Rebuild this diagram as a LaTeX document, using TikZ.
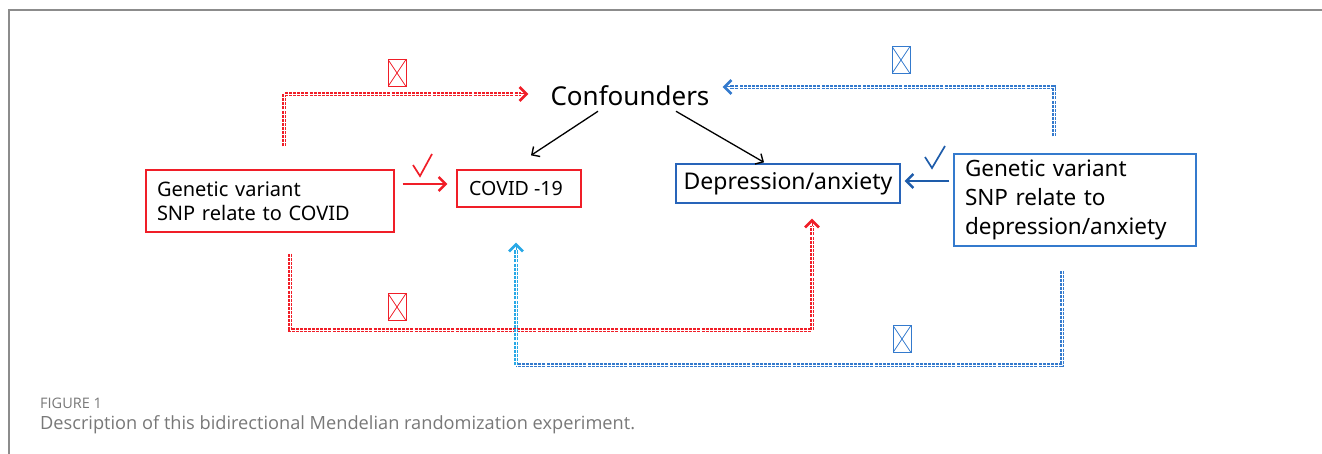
\documentclass[tikz,border=0pt]{standalone}
\usepackage{fontspec}
\setmainfont{Noto Sans}
\newfontfamily\capfont{Open Sans}
\usetikzlibrary{arrows.meta,calc}
\definecolor{myred}{RGB}{240,30,40}
\definecolor{myblue}{RGB}{52,122,205}
\definecolor{darkblue}{RGB}{30,92,170}
\definecolor{depblue}{RGB}{40,100,185}
\definecolor{cyanblue}{RGB}{40,168,230}
\definecolor{framegray}{RGB}{140,140,140}
\definecolor{capgray}{RGB}{120,120,120}
\tikzset{
  boxnode/.style={draw, line width=1.3pt, inner sep=0pt, align=left},
  dotline/.style={line width=4pt, dash pattern=on 3pt off 1.1pt,
    postaction={draw=white, line width=0.9pt}},
  tipline/.style={line width=1pt, -{Straight Barb[length=7pt,width=14pt,line width=2.6pt]}},
  solidarrow/.style={line width=2.4pt, -{Straight Barb[length=7pt,width=14pt,line width=2.4pt]}},
  blackarrow/.style={line width=1.3pt, -{Straight Barb[length=6pt,width=12pt,line width=1.4pt]}},
  xbox/.style={draw, line width=1pt, minimum width=18pt, minimum height=27pt, inner sep=0pt,
    path picture={\draw[line width=0.8pt] (path picture bounding box.south west) -- (path picture bounding box.north east)
      (path picture bounding box.north west) -- (path picture bounding box.south east);}},
  checkline/.style={line width=1.7pt, line join=miter, line cap=butt}
}
\begin{document}
\begin{tikzpicture}[x=1pt,y=-1pt]
\useasboundingbox (0,0) rectangle (1322,454);
% frame
\draw[framegray, line width=2pt] (1322,10) -- (9,10) -- (9,454);

% nodes
\node[inner sep=0pt, font=\fontsize{26}{30}\selectfont] (conf) at (630,96) {Confounders};
\node[boxnode, draw=myred, minimum width=248pt, minimum height=62pt, text width=226pt,
  font=\fontsize{20}{24}\selectfont] (gvc) at (270,201) {Genetic variant\\SNP relate to COVID};
\node[boxnode, draw=myred, minimum width=124pt, minimum height=37pt,
  font=\fontsize{19.6}{24}\selectfont] (covid) at (519,188.5) {COVID -19\hspace*{6pt}};
\node[boxnode, draw=depblue, minimum width=224pt, minimum height=39pt,
  font=\fontsize{23}{26}\selectfont] (dep) at (788,183.5) {Depression/anxiety};
\node[boxnode, draw=myblue, minimum width=242pt, minimum height=92pt, text width=220pt,
  font=\fontsize{22.5}{29}\selectfont] (gvd) at (1075,200) {Genetic variant\\SNP relate to\\depression/anxiety};

% solid arrows
\draw[solidarrow, myred] ($(gvc.east)+(8,-17)$) -- ($(covid.west)+(-9,-4.5)$);
\draw[solidarrow, darkblue] ($(gvd.west)+(-4,-19)$) -- ($(dep.east)+(4,-2.5)$);
\coordinate (chk1) at (420,176);
\draw[checkline, myred] ($(chk1)+(-7,-11)$) -- (chk1) -- ($(chk1)+(12,-22)$);
\coordinate (chk2) at (932,168);
\draw[checkline, darkblue] ($(chk2)+(-7,-11)$) -- (chk2) -- ($(chk2)+(13,-22)$);

% black arrows from confounders
\draw[blackarrow] ($(conf.south)+(-32,5)$) -- ($(covid.north)+(12,-14)$);
\draw[blackarrow] ($(conf.south)+(46,5)$) -- ($(dep.north)+(-24,-1)$);

% route coordinates
\coordinate (rt0) at ($(gvc.north)+(14,-23)$);
\coordinate (rt1) at ($(conf.west)+(-28,-2)$);
\coordinate (bt0) at ($(gvd.north)+(-21,-17)$);
\coordinate (bt1) at ($(conf.east)+(19,-9)$);
\coordinate (rb0) at ($(gvc.south)+(20,21)$);
\coordinate (rb1) at ($(dep.south)+(24,21)$);
\coordinate (bb0) at ($(gvd.south)+(-13,24)$);
\coordinate (bb1) at ($(covid.south)+(-3,41)$);
\coordinate (rbl) at (0,330);
\coordinate (bbl) at (0,365);

% red top dotted
\draw[dotline, draw=myred] (rt0) |- ($(rt1)+(-1,0)$);
\draw[tipline, myred] ($(rt1)+(-1,0)$) -- ($(rt1)+(6,0)$);
\node[xbox, draw=myred] (x1) at (397,73) {};

% blue top dotted
\draw[dotline, draw=myblue] (bt0) |- ($(bt1)+(1,0)$);
\draw[tipline, myblue] ($(bt1)+(1,0)$) -- ($(bt1)+(-6,0)$);
\node[xbox, draw=myblue] (x2) at (901,60) {};

% red bottom dotted
\draw[dotline, draw=myred] (rb0) -- (rb0 |- rbl) -- (rb1 |- rbl) -- ($(rb1)+(0,1)$);
\draw[tipline, myred] ($(rb1)+(0,1)$) -- ($(rb1)+(0,-6)$);
\node[xbox, draw=myred] (x3) at (397,307) {};

% blue bottom dotted
\draw[dotline, draw=myblue] (bb0) -- (bb0 |- bbl) -- (bb1 |- bbl);
\draw[dotline, draw=cyanblue] (bb1 |- bbl) -- ($(bb1)+(0,1)$);
\draw[tipline, cyanblue] ($(bb1)+(0,1)$) -- ($(bb1)+(0,-6)$);
\node[xbox, draw=myblue] (x4) at (902,339) {};

% caption
\node[anchor=base west, inner sep=0pt, text=capgray, font=\capfont\fontsize{14.5}{16}\selectfont] (fig) at (40,408) {FIGURE 1};
\node[anchor=base west, inner sep=0pt, text=capgray, font=\capfont\fontsize{18.2}{22}\selectfont] (cap) at (40,429) {Description of this bidirectional Mendelian randomization experiment.};
\end{tikzpicture}
\end{document}
